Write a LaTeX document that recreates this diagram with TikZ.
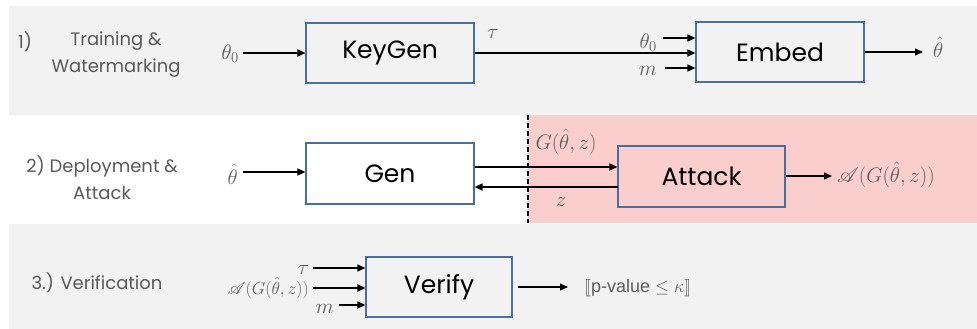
\RequirePackage{fix-cm}
\documentclass[tikz,border=0pt]{standalone}
\usepackage{fontspec}
\setmainfont{Poppins}
\newfontfamily\arialfont{Liberation Sans}
\usepackage{amsmath}
\usepackage{mathrsfs}
\usepackage{stmaryrd}
\usetikzlibrary{arrows.meta}

% scalable script capitals
\DeclareFontFamily{U}{rsfs}{\skewchar\font127 }
\DeclareFontShape{U}{rsfs}{m}{n}{<-6> rsfs5 <6-8> rsfs7 <8-> rsfs10}{}

\definecolor{bandgray}{HTML}{F2F2F2}
\definecolor{attackpink}{HTML}{FACECC}
\definecolor{boxblue}{HTML}{4A6F9B}
\definecolor{labelgray}{HTML}{595959}
\definecolor{mathgray}{HTML}{5E5E5E}

\tikzset{
  stagebox/.style={draw=boxblue, line width=1.2pt, minimum width=168pt, minimum height=60pt,
    inner sep=0pt, font=\fontsize{25}{30}\selectfont, text=black},
  stagelabel/.style={text=labelgray, font=\fontsize{18}{27}\selectfont, align=center, inner sep=0pt},
  mathlabel/.style={text=mathgray, font=\fontsize{21}{24}\selectfont, inner sep=0pt},
  smallmath/.style={text=mathgray, font=\fontsize{17.5}{20}\selectfont, inner sep=0pt},
  arr/.style={line width=1.4pt, -{Triangle[length=8pt,width=7pt]}},
}

\begin{document}
\begin{tikzpicture}[x=1pt, y=-1pt]
  \useasboundingbox (0,0) rectangle (977,329);

  % background bands
  \fill[bandgray] (9,6) rectangle (977,115);
  \fill[attackpink] (528,115) rectangle (977,223);
  \fill[bandgray] (9,224) rectangle (977,329);
  \draw[line width=2.6pt, dash pattern=on 5pt off 3pt] (528,115) -- (528,223);

  % ---- 1) training and watermarking ----
  \node[stagelabel, anchor=center] (lab1) at (25,42) {1)};
  \node[stagelabel] (lab1b) at (116,55) {Training \&\\Watermarking};

  \node[stagebox, fill=bandgray] (keygen) at (390,53) {KeyGen};
  \node[stagebox, fill=bandgray] (embed) at (780,52) {Embed};

  \node[mathlabel, anchor=east] (th0) at (239,54) {$\theta_0$};
  \coordinate (th0s) at (243,53);
  \draw[arr] (th0s) -- (th0s -| keygen.west);

  \node[mathlabel] (tau1) at (493,34) {$\tau$};
  \draw[arr] (keygen.east) -- (keygen.east -| embed.west);

  \node[mathlabel, anchor=east] (th0b) at (657,43) {$\theta_0$};
  \coordinate (e1s) at (663,38);
  \draw[arr] (e1s) -- (e1s -| embed.west);

  \node[mathlabel, anchor=east] (m1) at (657,71) {$m$};
  \coordinate (e3s) at (665,68);
  \draw[arr] (e3s) -- (e3s -| embed.west);

  \node[mathlabel, anchor=west] (thhat1) at (933,47) {$\hat\theta$};
  \coordinate (e4e) at (923,52);
  \draw[arr] (embed.east) -- (e4e);

  % ---- 2) deployment and attack ----
  \node[stagelabel] (lab2) at (102,178) {2) Deployment \&\\Attack};

  \node[stagebox, fill=white, minimum height=61pt] (gen) at (390,173.5) {Gen};
  \node[stagebox, fill=attackpink, minimum width=167pt, minimum height=61pt] (attack) at (701.5,176.5) {Attack};

  \node[mathlabel, anchor=east] (thhat2) at (238,174) {$\hat\theta$};
  \coordinate (g0s) at (243,172);
  \draw[arr] (g0s) -- (g0s -| gen.west);

  \coordinate (g1s) at (475,167);
  \draw[arr] (g1s) -- (g1s -| attack.west);
  \coordinate (g2s) at (618,187);
  \draw[arr] (g2s) -- (g2s -| gen.east);

  \node[mathlabel] (glab) at (566,142) {$G(\hat\theta,z)$};
  \node[mathlabel] (zlab) at (561,202) {$z$};

  \coordinate (a1e) at (832,176);
  \draw[arr] (attack.east |- a1e) -- (a1e);
  \node[mathlabel, anchor=west] (alab) at (837,175) {$\mathscr{A}(G(\hat\theta,z))$};

  % ---- 3) verification ----
  \node[stagelabel] (lab3) at (97,283) {3.) Verification};

  \node[stagebox, fill=bandgray, minimum width=146pt] (verify) at (439,287) {Verify};

  \node[mathlabel, anchor=east] (tau3) at (309,270) {$\tau$};
  \coordinate (v1s) at (313,268);
  \draw[arr] (v1s) -- (v1s -| verify.west);

  \node[smallmath, anchor=east] (alab3) at (309,288) {$\mathscr{A}(G(\hat\theta,z))$};
  \coordinate (v2s) at (313,288);
  \draw[arr] (v2s) -- (v2s -| verify.west);

  \node[mathlabel, anchor=east] (m3) at (334,309) {$m$};
  \coordinate (v3s) at (339,305);
  \draw[arr] (v3s) -- (v3s -| verify.west);

  \coordinate (v4e) at (568,287);
  \draw[arr] (verify.east |- v4e) ++(5,0) -- (v4e);
  \node[smallmath, anchor=west, font=\fontsize{18}{21}\selectfont] (pval) at (584,288)
    {$\llbracket$\arialfont p-value $\leq\kappa\rrbracket$};
\end{tikzpicture}
\end{document}
